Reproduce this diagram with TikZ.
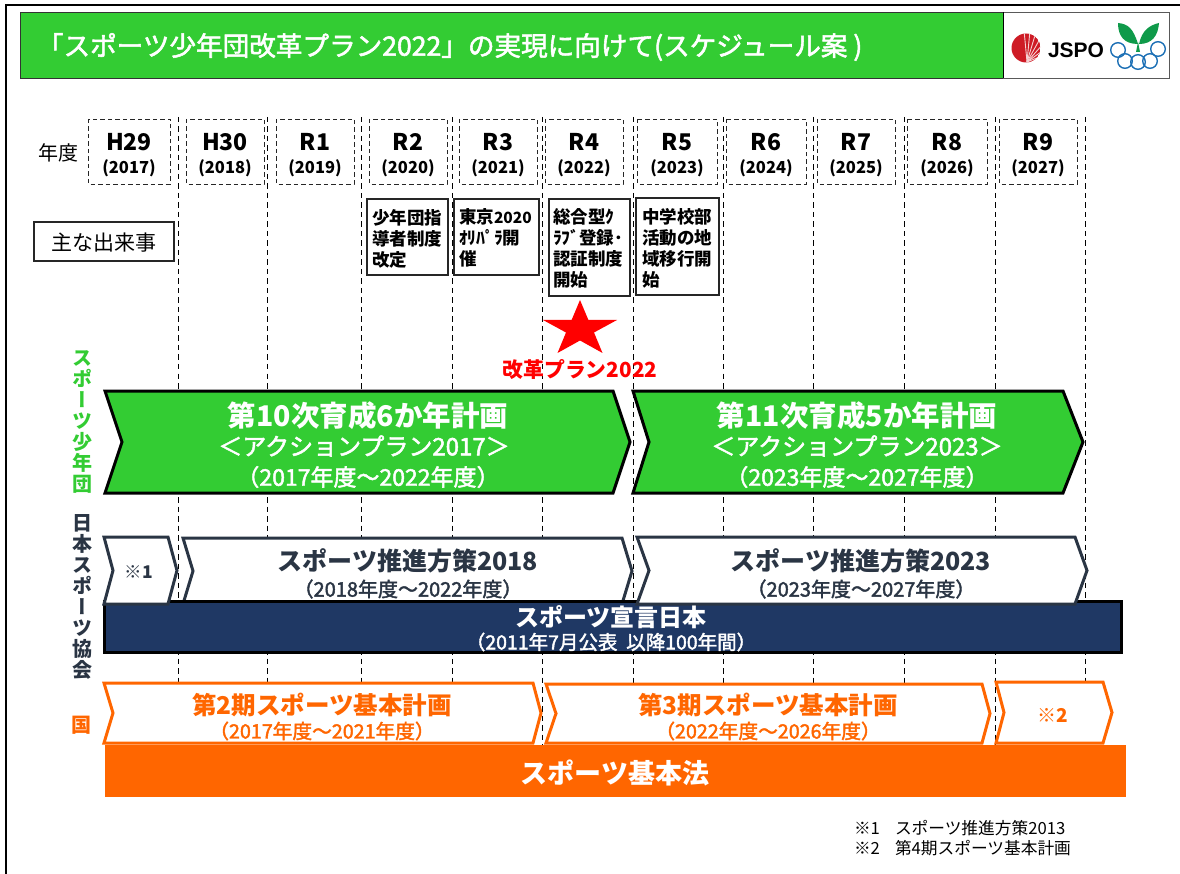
\documentclass[tikz,border=0pt]{standalone}
\usepackage{fontspec}
\setmainfont{Noto Sans CJK JP}
\newfontfamily\vertjp[RawFeature={+vert}]{Noto Sans CJK JP}
\newfontfamily\medjp[FakeBold=2]{Noto Sans CJK JP}
\newfontfamily\heros{Liberation Sans}
\usetikzlibrary{calc}
\definecolor{hdgreen}{HTML}{33CC33}
\definecolor{navy}{HTML}{1F3864}
\definecolor{slate}{HTML}{2A3544}
\definecolor{orng}{HTML}{FF6600}
\definecolor{ringblue}{HTML}{1B6FB5}
\definecolor{leaf}{HTML}{0F9A4A}
\definecolor{shell}{HTML}{CE1B25}
\newcommand{\fs}[1]{\fontsize{#1}{#1}\selectfont}
\newcommand{\chev}[7]{% x0 notch shoulder tip top bottom style
  \path[#7] (#1,#5) -- (#3,#5) -- (#4,{(#5+#6)/2}) -- (#3,#6) -- (#1,#6) -- (#2,{(#5+#6)/2}) -- cycle;}
\tikzset{
  x=1pt,y=-1pt,
  every node/.style={inner sep=0pt,outer sep=0pt},
  gridline/.style={black,line width=1pt,dash pattern=on 5.5pt off 4pt},
  yearbox/.style={draw=black!85,line width=.9pt,dash pattern=on 4.5pt off 3pt,fill=white},
  eventbox/.style={draw=black!85,line width=1.2pt,fill=white},
  eventtxt/.style={anchor=north west,align=left,font=\fs{17.5}\bfseries,text=black},
  yr/.style={font=\fs{23}\bfseries,text=black},
  yrsub/.style={font=\fs{16.5}\bfseries,text=black},
  gchev/.style={fill=hdgreen,draw=black,line width=3pt,miter limit=10},
  nchev/.style={fill=white,draw=slate,line width=3pt,miter limit=10},
  ochev/.style={fill=white,draw=orng,line width=3pt,miter limit=10},
  sidetxt/.style={align=center,font=\fs{20}\bfseries\vertjp},
}
\begin{document}
\begin{tikzpicture}
\useasboundingbox (0,0) rectangle (1180,874);
% page frame
\draw[black,line width=2pt] (1180,5) -- (5.5,5) -- (5.5,874);
% header
\path[fill=hdgreen,draw=black!80,line width=.8pt] (20,12) rectangle (1003,78);
\path[fill=white,draw=black!65,line width=.8pt] (1003,12) rectangle (1169,78);
\draw[black,line width=1pt] (1003,12) -- (1003,78);
\node[anchor=west,text=white,font=\fs{26.6}\medjp] (title) at (37,47) {「スポーツ少年団改革プラン2022」の実現に向けて(スケジュール案 )};
% logo
\begin{scope}
\clip (1026,48) circle (14.5);
\fill[shell] (1026,48) circle (14.5);
\foreach \tx/\ty in {1024/30,1030/30,1036/32,1041/37,1044/43,1045/49,1044/55}{
  \draw[white!80!shell,line width=.9pt] (1027,62) -- (\tx,\ty);
}
\end{scope}
\node[font=\fs{21}\bfseries\heros,text=black] (jspo) at (1076,50) {JSPO};
\fill[leaf] (1138,44) .. controls (1133,28) and (1128,24) .. (1118,23) .. controls (1118,36) and (1124,44) .. (1138,44) -- cycle;
\fill[leaf] (1139,44) .. controls (1142,30) and (1150,25) .. (1159,23) .. controls (1158,36) and (1152,44) .. (1139,44) -- cycle;
\fill[leaf] (1136,52) -- (1138,42) -- (1140,52) -- cycle;
\foreach \cx/\cy in {1118/50,1125/61,1138/62,1150/61,1158/49}{
  \draw[ringblue,line width=1.4pt] (\cx,\cy) circle (7.3);
}
% grid
\foreach \xx in {178,267,361,452,633,723,813,904,1085}{
  \draw[gridline] (\xx,117) -- (\xx,684);
}
\foreach \xx in {542,995}{
  \draw[gridline] (\xx,117) -- (\xx,745);
}
% years
\node[font=\fs{20},text=black] (nendo) at (58,153) {年度};
\foreach \nm/\l/\r/\a/\b in {y1/88/170/H29/2017,y2/186/264/H30/2018,y3/276/354/R1/2019,y4/369/447/R2/2020,y5/459/537/R3/2021,y6/545/623/R4/2022,y7/637/717/R5/2023,y8/726/806/R6/2024,y9/817/895/R7/2025,y10/907/987/R8/2026,y11/999/1077/R9/2027}{
  \path[yearbox] (\l,119) rectangle (\r,184);
  \node[yr] (\nm) at ({(\l+\r)/2},142) {\a};
  \node[yrsub] (\nm s) at ({(\l+\r)/2},168) {(\b)};
}
% events
\path[eventbox] (34,222) rectangle (174,261);
\node[font=\fs{21},text=black] (ev0) at (104,243) {主な出来事};
\path[eventbox] (367,199) rectangle (448,275);
\node[eventtxt] (ev1) at (372,209) {少年団指\\[3.5pt]導者制度\\[3.5pt]改定};
\path[eventbox] (454,199) rectangle (539,275);
\node[eventtxt] (ev2) at (459,209) {東京{\fs{15.5}2020}\\[3.5pt]ｵﾘﾊﾟﾗ開\\[3.5pt]催};
\path[eventbox] (549,199) rectangle (630,296);
\node[eventtxt] (ev3) at (553,209) {総合型ｸ\\[3.5pt]ﾗﾌﾞ登録･\\[3.5pt]認証制度\\[3.5pt]開始};
\path[eventbox] (636,198) rectangle (719,295);
\node[eventtxt] (ev4) at (642,208) {中学校部\\[3.5pt]活動の地\\[3.5pt]域移行開\\[3.5pt]始};
% star
\fill[red] (580,300) -- (588.4,320) -- (617,320) -- (594,332.5) -- (602.5,353) -- (580,340.5) -- (557.5,353) -- (566,332.5) -- (543,320) -- (571.6,320) -- cycle;
\node[font=\fs{20.8}\bfseries,text=red] (kaikaku) at (580,370) {改革プラン2022};
% side labels
\node[sidetxt,text=hdgreen] (s1) at (82,422) {ス\\[1pt]ポ\\[1pt]ー\\[1pt]ツ\\[1pt]少\\[1pt]年\\[1pt]団};
\node[sidetxt,text=slate] (s2) at (82,597) {日\\[1pt]本\\[1pt]ス\\[1pt]ポ\\[1pt]ー\\[1pt]ツ\\[1pt]協\\[1pt]会};
\node[font=\fs{20}\bfseries,text=orng] (s3) at (81,725) {国};
% green chevrons
\chev{105}{122}{613}{630}{391}{493}{gchev}
\chev{633}{649}{1063}{1083}{391}{493}{gchev}
\node[font=\fs{28.5}\bfseries,text=white] (g1a) at (368,416) {第10次育成6か年計画};
\node[font=\fs{24}\medjp,text=white] (g1b) at (364,446) {＜アクションプラン2017＞};
\node[font=\fs{23}\medjp,text=white] (g1c) at (368,477) {（2017年度～2022年度）};
\node[font=\fs{28.5}\bfseries,text=white] (g2a) at (857,416) {第11次育成5か年計画};
\node[font=\fs{24}\medjp,text=white] (g2b) at (857,446) {＜アクションプラン2023＞};
\node[font=\fs{23}\medjp,text=white] (g2c) at (857,477) {（2023年度～2027年度）};
% navy row
\chev{183}{193}{622}{632}{538}{604}{nchev}
\path[fill=navy,draw=black,line width=3pt] (104,601) rectangle (1121,652);
\chev{104}{113}{168}{177}{537}{604}{nchev}
\chev{637}{649}{1075}{1087}{537}{604}{nchev}
\node[font=\fs{17.5}\bfseries,text=slate] (n1) at (139,572) {※1};
\node[font=\fs{25}\bfseries,text=slate] (n2a) at (408,561) {スポーツ推進方策2018};
\node[font=\fs{20}\medjp,text=slate] (n2b) at (408,589) {（2018年度～2022年度）};
\node[font=\fs{25}\bfseries,text=slate] (n3a) at (861,561) {スポーツ推進方策2023};
\node[font=\fs{20}\medjp,text=slate] (n3b) at (861,589) {（2023年度～2027年度）};
\node[font=\fs{24}\bfseries,text=white] (dec) at (611,617) {スポーツ宣言日本};
\node[font=\fs{19.5}\medjp,text=white] (decb) at (611,642) {（2011年7月公表\ \ 以降100年間）};
% orange row
\chev{104}{113}{533}{541}{683}{743}{ochev}
\chev{546}{556}{982}{990}{684}{743}{ochev}
\chev{996}{1004}{1103}{1112}{682}{743}{ochev}
\path[fill=orng,draw=orng,line width=1pt] (105,745) rectangle (1125,796);
\node[font=\fs{24.5}\bfseries,text=orng] (o1a) at (322,705) {第2期スポーツ基本計画};
\node[font=\fs{19.7}\medjp,text=orng] (o1b) at (322,731) {（2017年度～2021年度）};
\node[font=\fs{24.5}\bfseries,text=orng] (o2a) at (768,705) {第3期スポーツ基本計画};
\node[font=\fs{19.7}\medjp,text=orng] (o2b) at (768,731) {（2022年度～2026年度）};
\node[font=\fs{19}\bfseries,text=orng] (o3) at (1053,715) {※2};
\node[font=\fs{27}\bfseries,text=white] (law) at (615,773) {スポーツ基本法};
% footnotes
\node[anchor=west,font=\fs{16.7},text=black] (f1) at (854,828) {※1};
\node[anchor=west,font=\fs{16.7},text=black] (f1b) at (895,828) {スポーツ推進方策2013};
\node[anchor=west,font=\fs{16.7},text=black] (f2) at (854,848) {※2};
\node[anchor=west,font=\fs{16.7},text=black] (f2b) at (895,848) {第4期スポーツ基本計画};
\end{tikzpicture}
\end{document}
